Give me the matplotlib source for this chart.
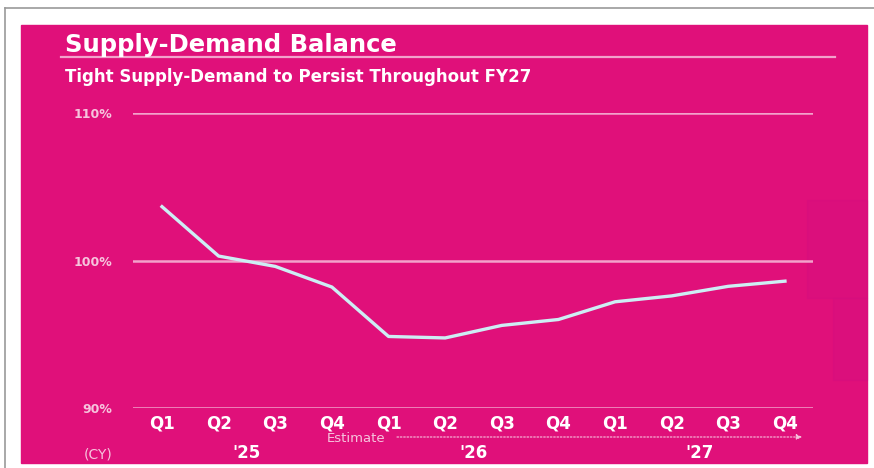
import matplotlib.pyplot as plt
import matplotlib.transforms as mtransforms
from matplotlib.patches import Rectangle
from matplotlib.lines import Line2D

# Quarterly supply-demand balance (%), CY2025 - CY2027
quarters = ['Q1', 'Q2', 'Q3', 'Q4'] * 3
years = ["'25", "'26", "'27"]
balance = [103.65, 100.3, 99.6, 98.2, 94.85, 94.75, 95.6, 96.0, 97.2, 97.6, 98.25, 98.6]
y_ticks = [90, 100, 110]
y_labels = ['90%', '100%', '110%']

PINK = '#e0107a'
LINE = '#cdeef4'
GRID = '#f2a2cb'
SOFT = '#f6c4dd'

W, H = 874, 468
fig = plt.figure(figsize=(W / 100, H / 100), dpi=100)
fig.patch.set_facecolor('white')
plt.rcParams['font.family'] = ['DejaVu Sans']


def fx(px):
    return px / W


def fy(py):
    return 1 - py / H


# frame and pink panel
fig.add_artist(Line2D([fx(5), 1], [fy(8), fy(8)], color='#9a9a9a', lw=1.2))
fig.add_artist(Line2D([fx(5), fx(5)], [0, fy(8)], color='#9a9a9a', lw=1.2))
fig.add_artist(Rectangle((fx(21), fy(463)), fx(867) - fx(21), fy(25) - fy(463),
                         color=PINK, zorder=0))
fig.add_artist(Rectangle((fx(807), fy(298)), fx(867) - fx(807), fy(200) - fy(298),
                         color='#d40e80', alpha=0.35, zorder=0))
fig.add_artist(Rectangle((fx(833), fy(380)), fx(867) - fx(833), fy(298) - fy(380),
                         color='#d40e80', alpha=0.35, zorder=0))

# titles
fig.text(fx(65), fy(52), 'Supply-Demand Balance', color='white', fontsize=17.5,
         fontweight='bold', va='baseline', ha='left')
fig.add_artist(Line2D([fx(61), fx(835)], [fy(57), fy(57)], color=GRID, lw=1.6))
fig.text(fx(65), fy(82), 'Tight Supply-Demand to Persist Throughout FY27', color='white',
         fontsize=12, fontweight='bold', va='baseline', ha='left')

# chart axes
ax = fig.add_axes([fx(133), fy(408), fx(813) - fx(133), fy(113) - fy(408)])
ax.set_facecolor('none')
x = list(range(len(balance)))
ax.plot(x, balance, color=LINE, lw=2.4, solid_joinstyle='round', zorder=3)
for t in y_ticks:
    ax.axhline(t, color=GRID, lw=1.8, zorder=1)

ax.set_xlim(-0.512, 11.495)
ax.set_ylim(90, 110)
for s in ax.spines.values():
    s.set_visible(False)
ax.set_yticks(y_ticks)
ax.set_yticklabels(y_labels, color=SOFT, fontsize=9, fontweight='bold')
ax.set_xticks(x)
ax.set_xticklabels(quarters, color='white', fontsize=12, fontweight='bold')
ax.tick_params(axis='y', length=0, pad=15)
ax.tick_params(axis='x', length=0, pad=5)

# year labels, CY marker, estimate arrow
trans = mtransforms.blended_transform_factory(ax.transData, fig.transFigure)
for i, yr in enumerate(years):
    ax.text(1.5 + 4 * i, fy(458), yr, transform=trans, color='white', fontsize=12,
            fontweight='bold', ha='center', va='baseline')
fig.text(fx(98), fy(458), '(CY)', color=SOFT, fontsize=10, ha='center', va='baseline')
ax.text(3.43, fy(442), 'Estimate', transform=trans, color=SOFT, fontsize=9.5,
        ha='center', va='baseline')
ax.annotate('', xy=(11.35, fy(437)), xytext=(4.1, fy(437)),
            xycoords=trans, textcoords=trans,
            arrowprops=dict(arrowstyle='-|>', color=SOFT, lw=0.8, ls=(0, (1.5, 1.5)),
                            mutation_scale=8))

fig.savefig('out.png', dpi=100)
